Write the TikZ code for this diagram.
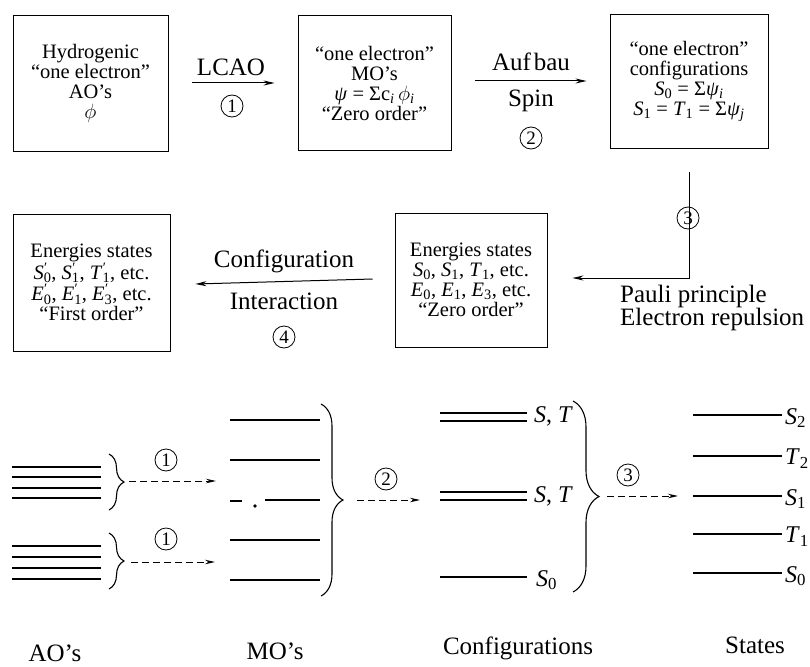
\documentclass[tikz,border=0pt]{standalone}
\usepackage{fontspec}
\setmainfont{Liberation Serif}
\usetikzlibrary{arrows.meta,decorations.pathreplacing}
\newcommand{\vs}[2]{\textit{#1}\textsubscript{#2}}
\newcommand{\vp}[2]{\textit{#1}\rlap{\textsuperscript{\kern0.3pt\symbol{"2032}}}\textsubscript{#2}}
\tikzset{
  stagebox/.style={draw,line width=0.9pt,minimum width=#1,align=center,inner sep=0pt,font=\fontsize{20.5}{20}\selectfont},
  bigtxt/.style={font=\fontsize{25}{21}\selectfont,inner sep=0pt},
  cnum/.style={circle,draw,line width=0.8pt,inner sep=0pt,minimum size=22pt,font=\fontsize{19}{19}\selectfont},
  flow/.style={line width=1pt,-{Stealth[length=11pt,width=5pt]}},
  dflow/.style={line width=1pt,dashed,dash pattern=on 7pt off 4pt,-{Stealth[length=10pt,width=4.5pt]}},
  lvl/.style={line width=1.7pt},
  brc/.style={line width=1.1pt,decorate,decoration={brace,amplitude=#1}},
  lvlab/.style={font=\fontsize{24}{24}\selectfont,inner sep=0pt,anchor=west},
  caption/.style={font=\fontsize{25}{25}\selectfont,inner sep=0pt}
}
\begin{document}
\begin{tikzpicture}[x=1pt,y=-1pt]
\useasboundingbox (0,0) rectangle (810,666);
% top row boxes
\node[stagebox=155pt,minimum height=136pt] (b1) at (90.5,83) {Hydrogenic\\``one electron''\\AO's\\$\phi$};
\node[stagebox=153pt,minimum height=135pt] (b2) at (374.5,83) {``one electron''\\MO's\\\textit{ψ} = Σc\textsubscript{\textit{i}}\,$\phi$\textsubscript{\textit{i}}\\``Zero order''};
\node[stagebox=158pt,minimum height=134pt] (b3) at (689,81) {``one electron''\\configurations\\\vs{S}{0} = Σ\vs{ψ}{\textit{i}}\\\vs{S}{1} = \vs{T}{1} = Σ\vs{ψ}{\textit{j}}};
\node[stagebox=152pt,minimum height=134pt] (b4) at (471,280) {Energies states\\\vs{S}{0}, \vs{S}{1}, \vs{T}{1}, etc.\\\vs{E}{0}, \vs{E}{1}, \vs{E}{3}, etc.\\``Zero order''};
\node[stagebox=157pt,minimum height=137pt] (b5) at (91.5,282.5) {Energies states\\\vp{S}{0}, \vp{S}{1}, \vp{T}{1}, etc.\\\vp{E}{0}, \vp{E}{1}, \vp{E}{3}, etc.\\``First order''};
% arrows of the flow chart
\draw[flow] ([xshift=24pt]b1.east) -- ([xshift=-23pt]b2.west);
\node[bigtxt] (lcao) at (231,67) {LCAO};
\node[cnum] (n1) at (232,106) {1};
\draw[flow] ([xshift=24pt,yshift=2pt]b2.east) -- ([xshift=-23pt]b3.west);
\node[bigtxt] (aufbau) at (531,62) {Auf\kern3pt bau};
\node[bigtxt] (spin) at (531,101) {Spin};
\node[cnum] (n2) at (531,138) {2};
\coordinate (c3a) at ([yshift=-24pt]b3.south);
\coordinate (c3b) at (b3.south |- 0,278);
\coordinate (c3e) at ([xshift=25pt]b4.east |- 0,278);
\draw[flow] (c3a) -- (c3b) -- (c3e);
\node[cnum] (n3) at (688,218) {3};
\node[bigtxt,anchor=west,align=left] (pauli) at (620,308) {Pauli principle\\Electron repulsion};
\draw[flow] ([xshift=-22pt,yshift=1pt]b4.west) -- ([xshift=25pt,yshift=-1.5pt]b5.east);
\node[bigtxt] (conf) at (284,261) {Configuration};
\node[bigtxt] (inter) at (284,301) {Interaction};
\node[cnum] (n4) at (284,337) {4};
% level diagrams: AO's
\foreach \y [count=\i] in {467,477,488,498} \draw[lvl] (12,\y) coordinate (ao1l\i) -- (101,\y);
\foreach \y [count=\i] in {546,557,568,579} \draw[lvl] (12,\y) coordinate (ao2l\i) -- (101,\y);
\draw[brc=15pt] (109,454) coordinate (br1t) -- (109,510) coordinate (br1b);
\draw[brc=15pt] (109,533) coordinate (br2t) -- (109,589) coordinate (br2b);
\coordinate (d1s) at (129,481); \coordinate (d1e) at (216,481);
\coordinate (d2s) at (131,562); \coordinate (d2e) at (215,562);
\draw[dflow] (d1s) -- (d1e);
\draw[dflow] (d2s) -- (d2e);
\node[cnum] (m1) at (166,460) {1};
\node[cnum] (m2) at (166,539) {1};
% MO's
\foreach \y in {420,460,540,580} \draw[lvl] (230,\y) -- (320,\y);
\draw[lvl] (230,501) -- (242,501);
\fill (255,506) circle (1.9pt);
\draw[lvl] (265,500) -- (320,500);
\draw[brc=22pt] (321,404) -- (321,596);
\coordinate (d3s) at (357,500); \coordinate (d3e) at (420,500);
\draw[dflow] (d3s) -- (d3e);
\node[cnum] (m3) at (386,479) {2};
% configurations
\foreach \y in {413,421,492,500} \draw[line width=1.4pt] (440,\y) -- (527,\y);
\draw[lvl] (440,577) -- (527,577);
\node[lvlab] (st1) at (534,416) {\textit{S}, \textit{T}};
\node[lvlab] (st2) at (534,496) {\textit{S}, \textit{T}};
\node[lvlab] (s0c) at (536,580) {\vs{S}{0}};
\draw[brc=26pt] (573,401) -- (573,592);
\coordinate (d4s) at (607,496); \coordinate (d4e) at (678,496);
\draw[dflow] (d4s) -- (d4e);
\node[cnum] (m4) at (628,475) {3};
% states
\foreach \y/\a/\b in {415/S/2,456/T/2,496/S/1,534/T/1,573/S/0} {
  \draw[lvl] (693,\y) -- (782,\y);
  \node[lvlab] at (785,\y+3) {\vs{\a}{\b}};
}
% captions
\node[caption] (capao) at (55,653) {AO's};
\node[caption] (capmo) at (275,651) {MO's};
\node[caption] (capconf) at (518,648) {Configurations};
\node[caption] (capst) at (755,645) {States};
\end{tikzpicture}
\end{document}
